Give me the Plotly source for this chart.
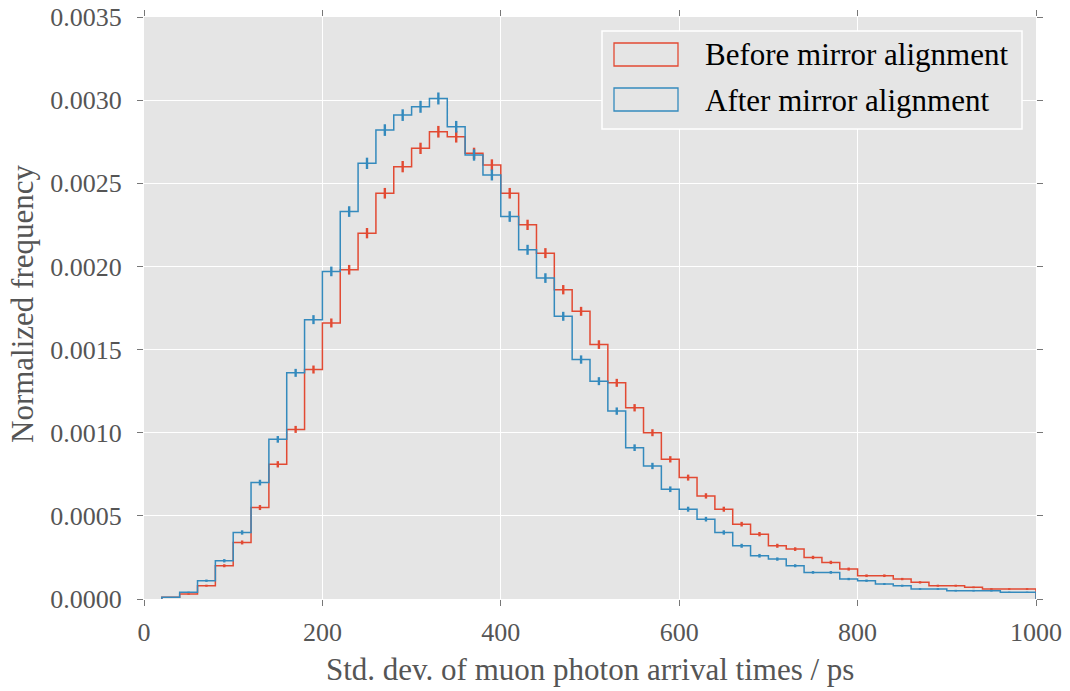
import numpy as np
import plotly.graph_objects as go

# Histogram of the per-ring std. dev. of muon photon arrival times (ps),
# normalised, 20 ps bins from 20 to 1000 ps. Values in units of 1e-5.
bin_lo = 20
bin_hi = 1000
bin_width = 20

before_vals = [1, 3, 8, 20, 34, 55, 81, 102, 138, 166,
               198, 220, 244, 260, 271, 281, 278, 268, 261, 244,
               225, 208, 186, 173, 153, 130, 115, 100, 84, 73,
               62, 54, 45, 39, 32, 30, 25, 22, 18, 14,
               14, 12, 10, 8, 8, 7, 6, 6, 6]
after_vals = [1, 4, 11, 23, 40, 70, 96, 136, 168, 197,
              233, 262, 282, 291, 296, 301, 284, 267, 255, 230,
              210, 193, 170, 144, 131, 113, 91, 80, 66, 54,
              48, 40, 32, 26, 24, 20, 16, 16, 12, 11,
              9, 8, 6, 6, 5, 5, 5, 4, 4]
# statistical uncertainties per bin, same units
before_err = [0.2, 0.4, 0.6, 0.9, 1.2, 1.5, 1.9, 2.1, 2.4, 2.7,
              2.9, 3.1, 3.2, 3.4, 3.4, 3.5, 3.5, 3.4, 3.4, 3.2,
              3.1, 3.0, 2.8, 2.7, 2.6, 2.4, 2.2, 2.1, 1.9, 1.8,
              1.6, 1.5, 1.4, 1.3, 1.2, 1.1, 1.0, 1.0, 0.9, 0.8,
              0.8, 0.7, 0.7, 0.6, 0.6, 0.5, 0.5, 0.5, 0.5]
after_err = [0.2, 0.4, 0.7, 1.0, 1.3, 1.7, 2.0, 2.4, 2.7, 2.9,
             3.2, 3.4, 3.5, 3.5, 3.6, 3.6, 3.5, 3.4, 3.3, 3.2,
             3.0, 2.9, 2.7, 2.5, 2.4, 2.2, 2.0, 1.9, 1.7, 1.5,
             1.4, 1.3, 1.2, 1.1, 1.0, 0.9, 0.8, 0.8, 0.7, 0.7,
             0.6, 0.6, 0.5, 0.5, 0.5, 0.5, 0.5, 0.4, 0.4]
unit = 1e-5

series_names = ["Before mirror alignment", "After mirror alignment"]
series_colors = ["#E24A33", "#348ABD"]

x_ticks = [0, 200, 400, 600, 800, 1000]
y_ticks = [0.0, 0.0005, 0.0010, 0.0015, 0.0020, 0.0025, 0.0030, 0.0035]

edges = np.arange(bin_lo, bin_hi + bin_width, bin_width)
centers = (edges[:-1] + edges[1:]) / 2

serif = "Liberation Serif, Times New Roman, serif"
fig = go.Figure()

for vals, errs, name, color in [(before_vals, before_err, series_names[0], series_colors[0]),
                                 (after_vals, after_err, series_names[1], series_colors[1])]:
    v = np.array(vals) * unit
    e = np.array(errs) * unit
    # step outline, dropping to zero at both ends
    sx = np.concatenate([[edges[0]], edges, [edges[-1]]])
    sy = np.concatenate([[0.0], v, [v[-1], 0.0]])
    fig.add_trace(go.Scatter(x=sx, y=sy, mode="lines", line_shape="hv",
                             line=dict(color=color, width=1.5), name=name,
                             showlegend=False, hoverinfo="skip"))
    fig.add_trace(go.Scatter(x=centers, y=v, mode="markers",
                             marker=dict(size=1, color=color, opacity=0),
                             error_y=dict(type="data", array=e, visible=True,
                                          color=color, thickness=2.4, width=0),
                             showlegend=False, name=name))

# plot area in pixels: left 144, right 1036, top 17, bottom 599
L, R, T, B = 144, 1036, 17, 599
W, H = R - L, B - T
px = lambda p: (p - L) / W
py = lambda p: (B - p) / H

shapes = [
    dict(type="rect", xref="paper", yref="paper", x0=px(602), x1=px(1022),
         y0=py(129), y1=py(31), fillcolor="#E5E5E5", line=dict(color="white", width=1.5),
         layer="above"),
]
annotations = []
legend_rows = [(43, 66, 55), (88, 111, 100)]
for (top, bot, mid), name, color in zip(legend_rows, series_names, series_colors):
    shapes.append(dict(type="rect", xref="paper", yref="paper", x0=px(614), x1=px(678),
                       y0=py(bot), y1=py(top), fillcolor="rgba(0,0,0,0)",
                       line=dict(color=color, width=1.3), layer="above"))
    annotations.append(dict(xref="paper", yref="paper", x=px(703), y=py(mid),
                            xanchor="left", yanchor="middle", showarrow=False,
                            text=name, font=dict(family=serif, size=31, color="black")))

annotations.append(dict(xref="paper", yref="paper", x=0.5, y=py(669),
                        xanchor="center", yanchor="middle", showarrow=False,
                        text="Std. dev. of muon photon arrival times / ps",
                        font=dict(family=serif, size=31, color="#555555")))
annotations.append(dict(xref="paper", yref="paper", x=px(22), y=py(304),
                        xanchor="center", yanchor="middle", showarrow=False,
                        textangle=-90, text="Normalized frequency",
                        font=dict(family=serif, size=31, color="#555555")))

axis_common = dict(showline=False, zeroline=False, showgrid=True, gridcolor="white",
                   gridwidth=1.3, ticks="outside", ticklen=6, tickwidth=1.2,
                   tickcolor="#777777", mirror="ticks", automargin=False,
                   tickfont=dict(family=serif, size=26, color="#555555"))

fig.update_layout(
    width=1070, height=691,
    margin=dict(l=L, r=1070 - R, t=T, b=691 - B),
    paper_bgcolor="white", plot_bgcolor="#E5E5E5",
    xaxis=dict(range=[0, 1000], tickvals=x_ticks, ticktext=[str(t) for t in x_ticks],
               ticklabelstandoff=4, **axis_common),
    yaxis=dict(range=[0, 0.0035], tickvals=y_ticks, ticktext=[f"{t:.4f}" for t in y_ticks],
               ticklabelstandoff=10, **axis_common),
    shapes=shapes, annotations=annotations, showlegend=False,
)

fig.write_html("out.html")
